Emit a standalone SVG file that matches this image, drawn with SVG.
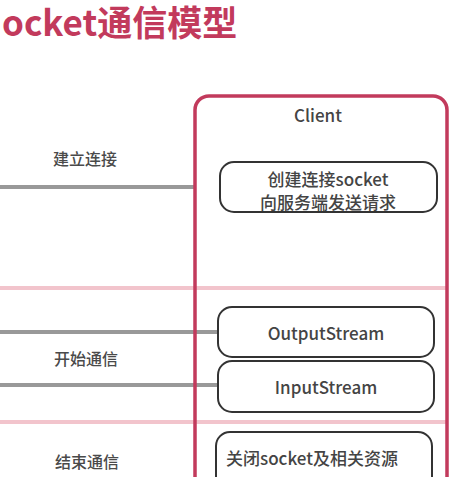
<svg xmlns="http://www.w3.org/2000/svg" width="473" height="477" viewBox="0 0 473 477">
<style>
.t{font-family:"Noto Sans CJK SC","Noto Sans",sans-serif;fill:#444;font-weight:500;}
.lbl{font-size:16px;text-anchor:middle;dominant-baseline:central;fill:#4a4a4a;}
.node{fill:#fff;stroke:#333;stroke-width:2;}
.nt{font-size:17px;text-anchor:middle;dominant-baseline:central;fill:#444;}
.conn{stroke:#999;stroke-width:4;fill:none;}
.sep{stroke:#f2c4cc;stroke-width:4;fill:none;}
</style>
<rect width="473" height="477" fill="#fff"/>
<text x="2" y="36" class="t" style="font-size:35px;font-weight:bold;fill:#c23a5c">ocket通信模型</text>
<g id="separators">
<line class="sep" x1="0" y1="288" x2="447" y2="288"/>
<line class="sep" x1="0" y1="422" x2="447" y2="422"/>
</g>
<g id="connectors">
<line class="conn" x1="0" y1="187" x2="196" y2="187"/>
<line class="conn" x1="0" y1="332" x2="218" y2="332"/>
<line class="conn" x1="0" y1="385" x2="218" y2="385"/>
</g>
<g id="client">
<rect x="195" y="96" width="252" height="400" rx="14" fill="none" stroke="#c23a5c" stroke-width="3.5"/>
<text x="318" y="114" class="t nt">Client</text>
</g>
<g id="phase-labels">
<text x="85" y="158" class="t lbl">建立连接</text>
<text x="86" y="358" class="t lbl">开始通信</text>
<text x="87" y="461" class="t lbl">结束通信</text>
</g>
<g id="node-create">
<rect class="node" x="220" y="162" width="217" height="50" rx="14"/>
<text x="328" y="178" class="t nt">创建连接socket</text>
<text x="328" y="201" class="t nt">向服务端发送请求</text>
</g>
<g id="node-output">
<rect class="node" x="218" y="307" width="216" height="50" rx="14"/>
<text x="326" y="332" class="t nt">OutputStream</text>
</g>
<g id="node-input">
<rect class="node" x="218" y="361" width="216" height="51" rx="14"/>
<text x="326" y="386" class="t nt">InputStream</text>
</g>
<g id="node-close">
<rect class="node" x="216" y="432" width="216" height="60" rx="14"/>
<text x="226" y="457" class="t" style="font-size:17px;dominant-baseline:central;fill:#444">关闭socket及相关资源</text>
</g>
</svg>
